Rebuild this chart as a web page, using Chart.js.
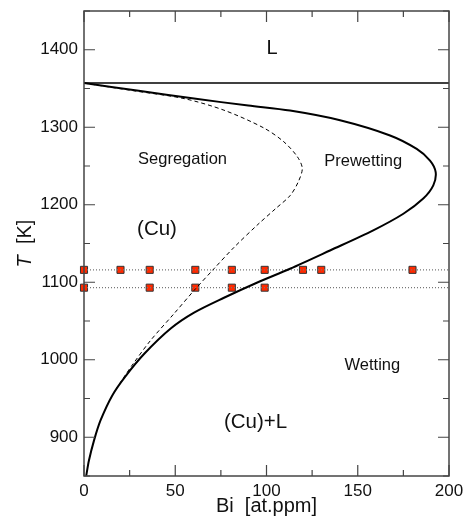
<!DOCTYPE html>
<html>
<head>
<meta charset="utf-8">
<script src="https://cdn.jsdelivr.net/npm/chart.js@4/dist/chart.umd.min.js"></script>
<style>
  html, body { margin: 0; padding: 0; background: #fff; }
  #wrap { width: 466px; height: 518px; }
</style>
</head>
<body>
<div id="wrap"><canvas id="chart" width="466" height="518"></canvas></div>
<script>
// ---- data ----
const liquidusT = 1357;
const xTicks = [0, 50, 100, 150, 200];
const yTicks = [900, 1000, 1100, 1200, 1300, 1400];

// prewetting / wetting boundary (solid)
const solidBi = [0, 30, 60.3, 90, 112.9, 140.3, 167.7, 182.3, 189.6, 192.7, 191.4, 185.9, 175, 158.5, 134.8, 112.9, 95, 76.7, 60.3, 47.5, 32.9, 22.5, 15.5, 9.1, 5.5, 2.7, 1.2];
const solidT  = [1357, 1347, 1337, 1328, 1321.5, 1309, 1289.4, 1272, 1257, 1242, 1225, 1208, 1188.4, 1167, 1141, 1117.4, 1099.7, 1080, 1060.8, 1040.3, 1007.4, 978, 954, 922, 896, 870, 850];

// segregation boundary (dashed)
const dashedBi = [0, 27.4, 54.8, 76.7, 98.6, 109.6, 116.9, 119.6, 117.5, 113, 105.2, 95.3, 82.2, 71.2, 60.3, 49.3, 36.5, 27, 21.9, 16.5];
const dashedT  = [1357, 1347, 1337, 1322, 1299, 1281, 1262, 1247, 1230, 1212, 1195.4, 1174.6, 1145, 1117.4, 1089.4, 1059.4, 1025, 995, 977.6, 958];

// experimental samples
const sampleT1 = 1116;
const sampleBi1 = [0, 20, 36, 61, 81, 99, 120, 130, 180];
const sampleT2 = 1093;
const sampleBi2 = [0, 36, 61, 81, 99];

// region names
const regionText = ["L", "Segregation", "Prewetting", "(Cu)", "Wetting", "(Cu)+L"];
const regionBi   = [103, 54, 153, 40, 158, 94];
const regionT    = [1402, 1258, 1256, 1168, 993, 919];
const regionSize = [20, 16.5, 16.5, 20.5, 16.5, 20.5];

const FONT = "'Liberation Sans', Arial, Helvetica, sans-serif";

function pts(xs, ys){ return xs.map((x, i) => ({ x, y: ys[i] })); }
function flat(xs, y){ return xs.map(x => ({ x, y })); }

// frame, inward ticks, labels and axis titles
const decor = {
  id: "decor",
  afterDraw(chart){
    const { ctx, chartArea: a, scales: { x, y } } = chart;
    ctx.save();
    ctx.strokeStyle = "#444";
    ctx.lineWidth = 1.5;
    ctx.strokeRect(a.left, a.top, a.right - a.left, a.bottom - a.top);

    ctx.lineWidth = 1.2;
    ctx.beginPath();
    for(let v = 0; v <= 200; v += 25){
      const px = x.getPixelForValue(v);
      const len = v % 50 === 0 ? 11 : 6;
      ctx.moveTo(px, a.bottom); ctx.lineTo(px, a.bottom - len);
      ctx.moveTo(px, a.top);    ctx.lineTo(px, a.top + len);
    }
    for(let v = 850; v <= 1450; v += 50){
      const py = y.getPixelForValue(v);
      const len = v % 100 === 0 ? 11 : 6;
      ctx.moveTo(a.left, py);  ctx.lineTo(a.left + len, py);
      ctx.moveTo(a.right, py); ctx.lineTo(a.right - len, py);
    }
    ctx.stroke();

    // region names
    ctx.fillStyle = "#111";
    ctx.textAlign = "center";
    ctx.textBaseline = "middle";
    regionText.forEach((t, i) => {
      ctx.font = `${regionSize[i]}px ${FONT}`;
      ctx.fillText(t, x.getPixelForValue(regionBi[i]), y.getPixelForValue(regionT[i]));
    });

    // x title
    ctx.font = `20px ${FONT}`;
    ctx.fillText("Bi  [at.ppm]", (a.left + a.right) / 2, 506);

    // y title: italic T then [K]
    ctx.translate(25, (a.top + a.bottom) / 2);
    ctx.rotate(-Math.PI / 2);
    ctx.textAlign = "left";
    const tFont = `italic 20px ${FONT}`, kFont = `20px ${FONT}`;
    ctx.font = tFont;  const wT = ctx.measureText("T  ").width;
    ctx.font = kFont;  const wK = ctx.measureText("[K]").width;
    const start = -(wT + wK) / 2;
    ctx.font = tFont;  ctx.fillText("T", start, 0);
    ctx.font = kFont;  ctx.fillText("[K]", start + wT, 0);
    ctx.restore();
  }
};

new Chart(document.getElementById("chart"), {
  type: "scatter",
  data: {
    datasets: [
      { data: flat([0, 200], liquidusT), showLine: true, borderColor: "#000", borderWidth: 1.5, pointRadius: 0 },
      { data: pts(solidBi, solidT), showLine: true, borderColor: "#000", borderWidth: 2, pointRadius: 0, tension: 0.3 },
      { data: pts(dashedBi, dashedT), showLine: true, borderColor: "#000", borderWidth: 1, borderDash: [4, 3], pointRadius: 0, tension: 0.3 },
      { data: flat([0, 200], sampleT1), showLine: true, borderColor: "#777", borderWidth: 1.2, borderDash: [1, 2], pointRadius: 0 },
      { data: flat([0, 200], sampleT2), showLine: true, borderColor: "#777", borderWidth: 1.2, borderDash: [1, 2], pointRadius: 0 },
      { data: flat(sampleBi1, sampleT1).concat(flat(sampleBi2, sampleT2)), showLine: false,
        pointStyle: "rect", pointRadius: 5, backgroundColor: "#ff2a00", borderColor: "#333", borderWidth: 1, clip: false }
    ]
  },
  options: {
    responsive: false,
    animation: false,
    devicePixelRatio: 1,
    layout: { padding: { top: 11, right: 17, left: 0, bottom: 0 } },
    plugins: { legend: { display: false }, tooltip: { enabled: false } },
    scales: {
      x: {
        type: "linear", min: 0, max: 200,
        grid: { display: false, drawTicks: false },
        border: { display: false },
        afterBuildTicks: s => { s.ticks = xTicks.map(v => ({ value: v })); },
        afterFit: s => { s.height = 42; s.paddingLeft = 0; s.paddingRight = 0; },
        ticks: { padding: 5, color: "#111", font: { family: FONT, size: 17 }, maxRotation: 0,
                 callback: v => String(v) }
      },
      y: {
        type: "linear", min: 850, max: 1450,
        grid: { display: false, drawTicks: false },
        border: { display: false },
        afterBuildTicks: s => { s.ticks = yTicks.map(v => ({ value: v })); },
        afterFit: s => { s.width = 84; s.paddingTop = 0; s.paddingBottom = 0; },
        ticks: { padding: 6, color: "#111", font: { family: FONT, size: 17 },
                 callback: v => String(v) }
      }
    }
  },
  plugins: [decor]
});
</script>
</body>
</html>
